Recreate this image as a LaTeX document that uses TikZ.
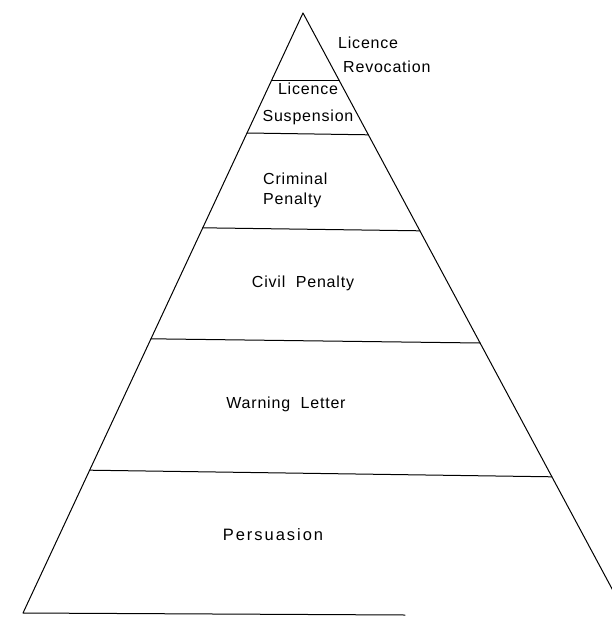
\documentclass[tikz,border=0pt]{standalone}
\usepackage{fontspec}
\setmainfont{Liberation Sans}[LetterSpace=5]
\usetikzlibrary{calc}

\begin{document}
\begin{tikzpicture}[
  x=1pt, y=-1pt,
  tier/.style={inner sep=0pt, align=center,
               font=\fontsize{16}{20}\selectfont},
  rule/.style={line width=1pt, line cap=round, line join=round}
]
\useasboundingbox (0,0) rectangle (612,618);
\clip (0,0) rectangle (612,618);

\coordinate (apex) at (303,13);
\coordinate (baseL) at (23,613);
\coordinate (baseR) at (625,613);
\coordinate (baseEnd) at (405,615);

% outline of the pyramid
\draw[rule] (baseR) -- (apex) -- (baseL) -- (baseEnd);

% tier boundaries
\foreach \tl/\tr in {0.112/0.112, 0.2/0.203, 0.358/0.363, 0.543/0.55, 0.762/0.773}
  \draw[rule] ($(apex)!\tl!(baseL)$) -- ($(apex)!\tr!(baseR)$);

\node[tier, align=left, anchor=west, font=\fontsize{16}{24}\selectfont] (revoc)
  at (338,55) {Licence\\\hspace{5pt}Revocation};
\node[tier, font=\fontsize{16}{27}\selectfont] (susp)
  at (308,103.5) {Licence\\Suspension};
\node[tier, align=left, anchor=west] (crim)
  at (263,190) {Criminal\\Penalty};
\node[tier] (civil) at (303,283) {Civil\ \ Penalty};
\node[tier] (warn) at (286,404) {Warning\ \ Letter};
\node[tier, font=\fontsize{16.5}{20}\selectfont\addfontfeatures{LetterSpace=12}] (pers)
  at (273,535) {Persuasion};
\end{tikzpicture}
\end{document}
